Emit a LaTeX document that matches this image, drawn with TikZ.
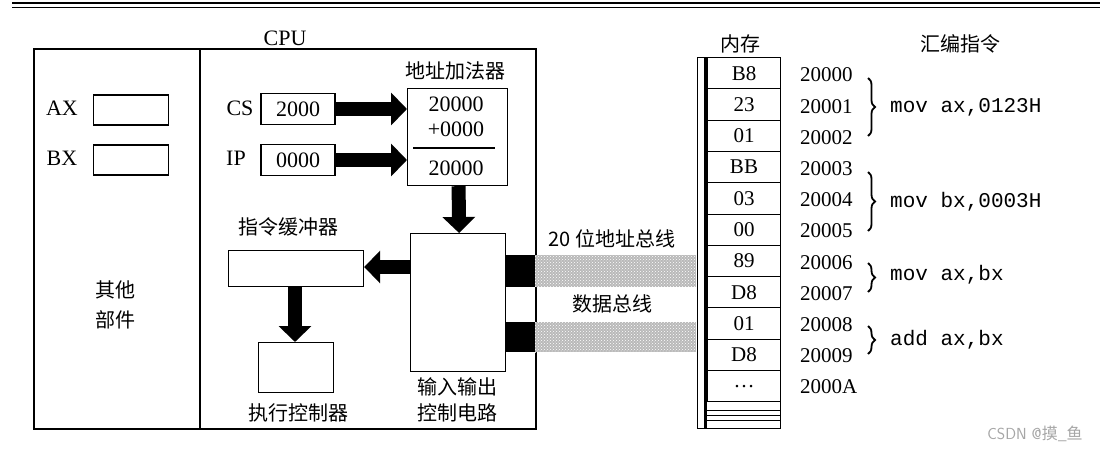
\documentclass[tikz,border=0pt]{standalone}
\usepackage{fontspec}
\setmainfont{Liberation Serif}
\setmonofont{Liberation Mono}
\newfontfamily\cjk{Noto Sans CJK SC}
\usetikzlibrary{arrows.meta,patterns,decorations.pathreplacing}
\begin{document}
\begin{tikzpicture}[x=1pt,y=-1pt,
  txt/.style={font=\fontsize{22}{24}\selectfont, inner sep=0pt},
  ctxt/.style={font=\cjk\fontsize{20}{26}\selectfont, inner sep=0pt},
  code/.style={font=\ttfamily\fontsize{21}{24}\selectfont, inner sep=0pt, anchor=west},
  reg/.style={draw, line width=1.2pt, fill=white, inner sep=0pt},
  fat/.style={line width=14pt, -{Triangle[width=32pt,length=16pt]}},
  bus/.style={fill=gray!55},
  cell/.style={draw, line width=1pt, minimum width=73pt, minimum height=31.3pt, inner sep=0pt, font=\fontsize{21}{22}\selectfont},
  addr/.style={font=\fontsize{21}{22}\selectfont, inner sep=0pt, anchor=west},
  brc/.style={decorate, decoration={brace, amplitude=7pt}, line width=1.8pt}]
\useasboundingbox (0,0) rectangle (1112,453);
\fill[white] (0,0) rectangle (1112,453);
\draw[line width=1.5pt] (12,3) -- (1100,3);
\draw[line width=1pt] (12,7) -- (1100,7);
\node[txt] (cpulbl) at (285,38) {CPU};
\node[draw, line width=1.5pt, minimum width=502pt, minimum height=380pt, inner sep=0pt, anchor=north west] (cpu) at (33,48) {};
\draw[line width=1.2pt] (200,48) -- (200,428);
\node[txt] (axl) at (62,108) {AX};
\node[reg, minimum width=75pt, minimum height=30pt] (ax) at (131,110) {};
\node[txt] (bxl) at (62,158) {BX};
\node[reg, minimum width=75pt, minimum height=30pt] (bx) at (131,160) {};
\node[ctxt, align=center] (other) at (115,305) {其他\\[4pt]部件};
\node[txt] (csl) at (240,108) {CS};
\node[reg, minimum width=74pt, minimum height=31pt, font=\fontsize{22}{24}\selectfont] (cs) at (298,109) {2000};
\node[txt] (ipl) at (236,158) {IP};
\node[reg, minimum width=74pt, minimum height=31pt, font=\fontsize{22}{24}\selectfont] (ip) at (298,160) {0000};
\node[ctxt] (addlbl) at (455,71) {地址加法器};
\node[reg, minimum width=100pt, minimum height=97pt, anchor=north west] (adder) at (407,88) {};
\node[txt] (a1) at (456,104) {20000};
\node[txt] (a2) at (456,129) {+0000};
\draw[line width=1.2pt] (413,148) -- (495,148);
\node[txt] (a3) at (456,168) {20000};
\draw[fat] (cs.east) -- (cs.east -| adder.west);
\draw[fat] (ip.east) -- (ip.east -| adder.west);
\node[reg, minimum width=95pt, minimum height=138pt, anchor=north west] (io) at (410,233) {};
\draw[fat] (adder.south) ++(1,0) -- ([xshift=1pt]io.north);
\node[ctxt, align=center] (iolbl) at (457,400) {输入输出\\[0pt]控制电路};
\node[ctxt] (buflbl) at (288,227) {指令缓冲器};
\node[reg, minimum width=135pt, minimum height=36pt, anchor=north west] (buf) at (228,250) {};
\coordinate (iol) at (410,267);
\draw[fat] (iol) -- (buf.east |- iol);
\node[reg, minimum width=75pt, minimum height=50pt, anchor=north west] (exe) at (258,342) {};
\draw[fat] (295,286) -- (295,342);
\node[ctxt] (exelbl) at (298,413) {执行控制器};
\fill (505,255) rectangle (535,287);
\fill (505,322) rectangle (535,352);
\fill[bus] (535,255) rectangle (696,287);
\fill[pattern=crosshatch dots, pattern color=white] (535,255) rectangle (696,287);
\fill[bus] (535,322) rectangle (696,352);
\fill[pattern=crosshatch dots, pattern color=white] (535,322) rectangle (696,352);
\node[ctxt] (ablbl) at (612,239) {20 位地址总线};
\node[ctxt] (dblbl) at (612,304) {数据总线};
\node[ctxt] (memlbl) at (740,44) {内存};
\node[ctxt] (asmlbl) at (960,44) {汇编指令};
\draw[line width=1pt] (697,57) rectangle (780,428);
\draw[line width=3pt] (705,57) -- (705,428);
\foreach \t [count=\i] in {B8,23,01,BB,03,00,89,D8,01,D8,\dots} {
  \node[cell, anchor=north west] (m\i) at (707,{57+(\i-1)*31.3}) {\t};
}
\draw[line width=1pt] (707,410) -- (780,410) (707,415) -- (780,415) (707,420) -- (780,420);
\foreach \a [count=\i] in {20000,20001,20002,20003,20004,20005,20006,20007,20008,20009,2000A} {
  \node[addr] (ad\i) at (800,{75+(\i-1)*31.2}) {\a};
}
\draw[brc] (868,78) -- (868,136);
\node[code] (c1) at (890,107) {mov ax,0123H};
\draw[brc] (868,172) -- (868,231);
\node[code] (c2) at (890,202) {mov bx,0003H};
\draw[brc] (868,263) -- (868,292);
\node[code] (c3) at (890,275) {mov ax,bx};
\draw[brc] (868,326) -- (868,354);
\node[code] (c4) at (890,340) {add ax,bx};
\node[font=\fontsize{16}{18}\selectfont\sffamily, text=gray!70, inner sep=0pt] (wm) at (1035,434) {CSDN @{\cjk 摸\_鱼}};
\end{tikzpicture}
\end{document}
